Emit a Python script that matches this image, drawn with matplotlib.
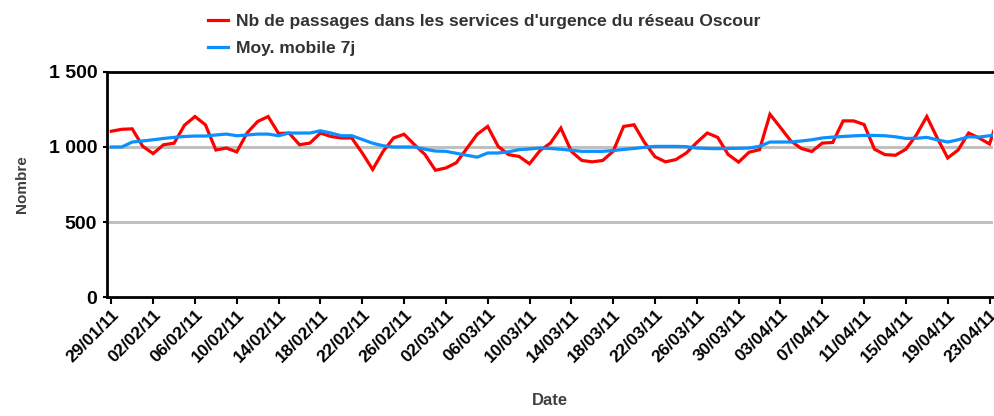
import pandas as pd
import matplotlib
matplotlib.use('Agg')
import matplotlib.pyplot as plt
import matplotlib.dates as mdates

plt.rcParams['font.family'] = ['Liberation Sans', 'DejaVu Sans']

# daily values, starting 29/01/2011
start = '2011-01-29'
passages = [1105, 1118, 1121, 1005, 956, 1015, 1025, 1145, 1203, 1148,
            980, 993, 967, 1095, 1170, 1203, 1090, 1093, 1015, 1026,
            1093, 1070, 1060, 1060, 960, 850, 971, 1060, 1085, 1015,
            950, 845, 860, 895, 990, 1085, 1137, 1004, 949, 937,
            888, 976, 1026, 1126, 971, 910, 901, 910, 971, 1137,
            1148, 1030, 935, 901, 916, 960, 1030, 1093, 1064, 950,
            899, 965, 982, 1218, 1130, 1040, 990, 970, 1026, 1030,
            1174, 1174, 1150, 985, 949, 945, 985, 1080, 1203, 1060,
            927, 980, 1093, 1060, 1020, 1230]
moy_mobile = [1000, 1000, 1033, 1040, 1048, 1057, 1064, 1070, 1073, 1073,
              1080, 1086, 1075, 1080, 1086, 1086, 1075, 1093, 1093, 1093,
              1108, 1093, 1075, 1075, 1050, 1025, 1008, 1000, 1000, 1000,
              985, 973, 971, 958, 945, 932, 960, 960, 968, 982,
              987, 993, 990, 985, 978, 971, 971, 971, 976, 984,
              990, 998, 1004, 1004, 1004, 1002, 993, 990, 989, 990,
              991, 993, 1004, 1033, 1033, 1033, 1040, 1048, 1060, 1066,
              1070, 1074, 1077, 1077, 1075, 1068, 1057, 1058, 1064, 1048,
              1033, 1048, 1068, 1066, 1075, 1090]
y_ticks = [0, 500, 1000, 1500]
y_labels = ['0', '500', '1 000', '1 500']
labels = ["Nb de passages dans les services d'urgence du réseau Oscour",
          'Moy. mobile 7j']

dates = pd.date_range(start, periods=len(passages), freq='D')

fig = plt.figure(figsize=(9.94, 4.16), dpi=100)
ax = fig.add_axes([0.1076, 0.286, 0.8914, 0.541])

l1, = ax.plot(dates, passages, color='#ff0000', lw=2.3, solid_joinstyle='miter')
l2, = ax.plot(dates, moy_mobile, color='#0a90ff', lw=2.3)

ax.set_ylim(0, 1500)
ax.set_yticks(y_ticks)
ax.set_yticklabels(y_labels, fontsize=14, fontweight='bold')
for v in [500, 1000]:
    ax.axhline(v, color='#c0c0c0', lw=2.2, zorder=0)

ax.set_xlim(dates[0] - pd.Timedelta(hours=10), dates[84] + pd.Timedelta(hours=8))
ax.set_xticks(dates[:85:4])
ax.xaxis.set_major_formatter(mdates.DateFormatter('%d/%m/%y'))
for lab in ax.get_xticklabels():
    lab.set_rotation(45)
    lab.set_ha('right')
    lab.set_rotation_mode('anchor')
    lab.set_fontsize(12.5)
    lab.set_fontweight('bold')

ax.tick_params(axis='x', direction='out', length=5, width=1.5, pad=2)
ax.tick_params(axis='y', direction='out', length=3, width=1.5, pad=4)

for s in ['left', 'bottom', 'top']:
    ax.spines[s].set_linewidth(2)
    ax.spines[s].set_color('black')
ax.spines['right'].set_visible(False)

ax.set_ylabel('Nombre', fontsize=11, fontweight='bold', color='#404040', labelpad=14)
ax.set_xlabel('Date', fontsize=12, fontweight='bold', color='#404040', labelpad=20)

fig.legend([l1, l2], labels, loc='upper left', bbox_to_anchor=(0.193, 1.005),
           frameon=False, handlelength=1.15, handletextpad=0.5,
           labelspacing=0.7, prop={'weight': 'bold', 'size': 12.6},
           labelcolor='#333333')

fig.savefig('out.png', dpi=100)
